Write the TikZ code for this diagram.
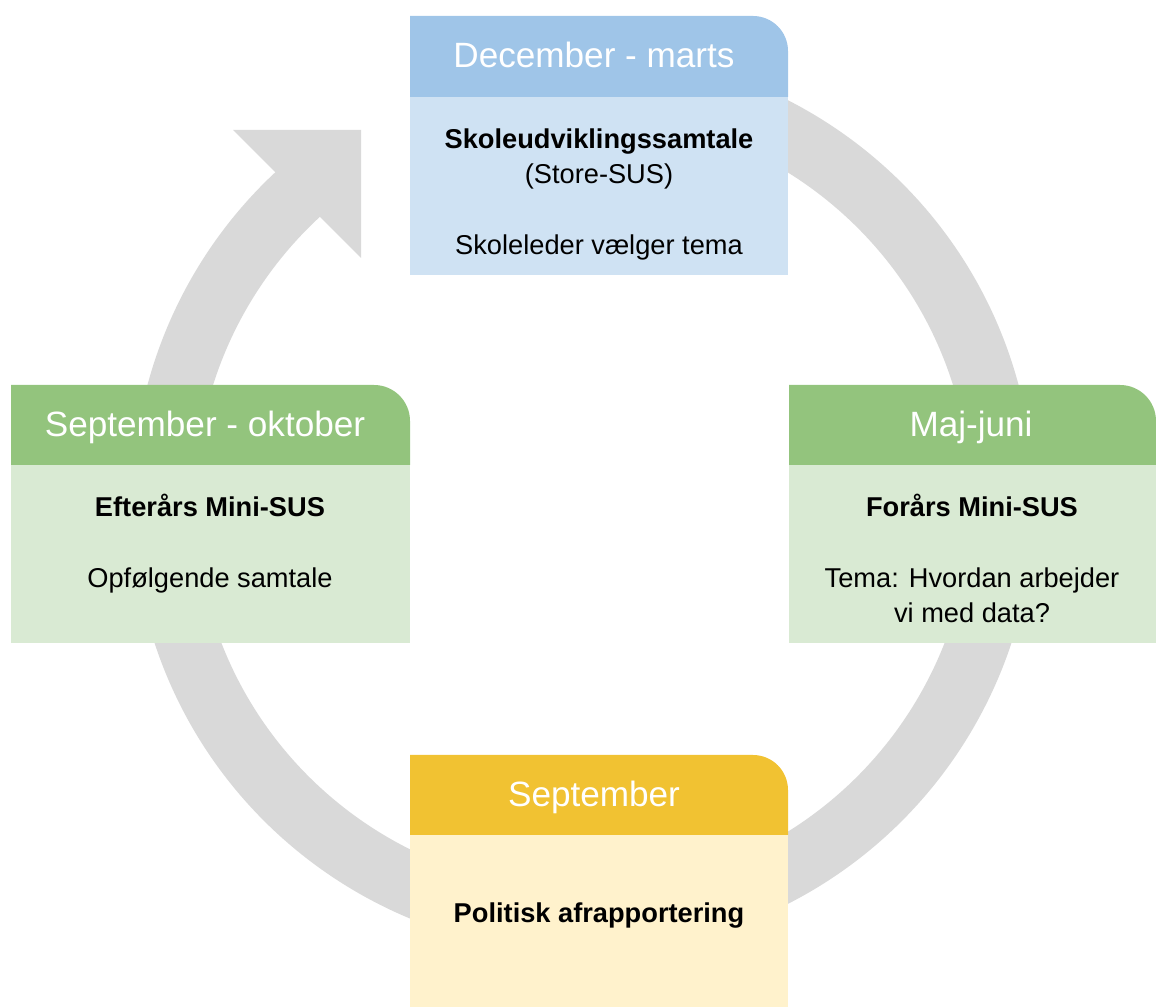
\documentclass[tikz,border=0pt]{standalone}
\usepackage{fontspec}
\setmainfont{Liberation Sans}
\definecolor{ringgray}{HTML}{D9D9D9}
\definecolor{bluehd}{HTML}{9FC5E8}
\definecolor{bluebd}{HTML}{CFE2F3}
\definecolor{greenhd}{HTML}{93C47D}
\definecolor{greenbd}{HTML}{D9EAD3}
\definecolor{yellowhd}{HTML}{F1C232}
\definecolor{yellowbd}{HTML}{FFF2CC}
\begin{document}
\begin{tikzpicture}[x=0.02cm,y=0.02cm,
  hdrtext/.style={text=white,font=\fontsize{20}{24}\selectfont,anchor=base,inner sep=0pt},
  boldtext/.style={text=black,font=\fontsize{15.5}{19}\selectfont\bfseries,anchor=base,inner sep=0pt},
  plaintext/.style={text=black,font=\fontsize{15.5}{19}\selectfont,anchor=base,inner sep=0pt},
  ring/.style={draw=ringgray,line width=1.26cm,line cap=butt}]
\useasboundingbox (0,0) rectangle (1156,1007);
% ring with arrow
\coordinate (c) at (583,505);
\draw[ring] ([shift={(100:419.5)}]c) arc[start angle=100,end angle=-228,radius=419.5];
\fill[ringgray] (233,877) -- (361,877) -- (361,749) -- cycle;
% top box
\fill[bluehd] (410,910) -- (410,991) -- (753,991) arc[start angle=90,end angle=0,radius=35] -- (788,910) -- cycle;
\fill[bluebd] (410,732) rectangle (788,910);
% left box
\fill[greenhd] (11,542) -- (11,622) -- (374,622) arc[start angle=90,end angle=0,radius=36] -- (410,542) -- cycle;
\fill[greenbd] (11,364) rectangle (410,542);
% right box
\fill[greenhd] (789,542) -- (789,622) -- (1120,622) arc[start angle=90,end angle=0,radius=36] -- (1156,542) -- cycle;
\fill[greenbd] (789,364) rectangle (1156,542);
% bottom box
\fill[yellowhd] (410,172) -- (410,252) -- (753,252) arc[start angle=90,end angle=0,radius=35] -- (788,172) -- cycle;
\fill[yellowbd] (410,0) rectangle (788,172);
% texts
\node[hdrtext] (th) at (594,939) {December - marts};
\node[boldtext] (t1) at (599,858) {Skoleudviklingssamtale};
\node[plaintext] (t2) at (599,823) {(Store-SUS)};
\node[plaintext] (t3) at (599,752) {Skoleleder vælger tema};
\node[hdrtext] (lh) at (205,570) {September - oktober};
\node[boldtext] (l1) at (210,490) {Efterårs Mini-SUS};
\node[plaintext] (l2) at (210,419) {Opfølgende samtale};
\node[hdrtext] (rh) at (971,570) {Maj-juni};
\node[boldtext] (r1) at (972,490) {Forårs Mini-SUS};
\node[plaintext] (r2) at (972,419) {Tema: Hvordan arbejder};
\node[plaintext] (r3) at (972,384) {vi med data?};
\node[hdrtext] (bh) at (594,200) {September};
\node[boldtext] (b1) at (599,84) {Politisk afrapportering};
\end{tikzpicture}
\end{document}
